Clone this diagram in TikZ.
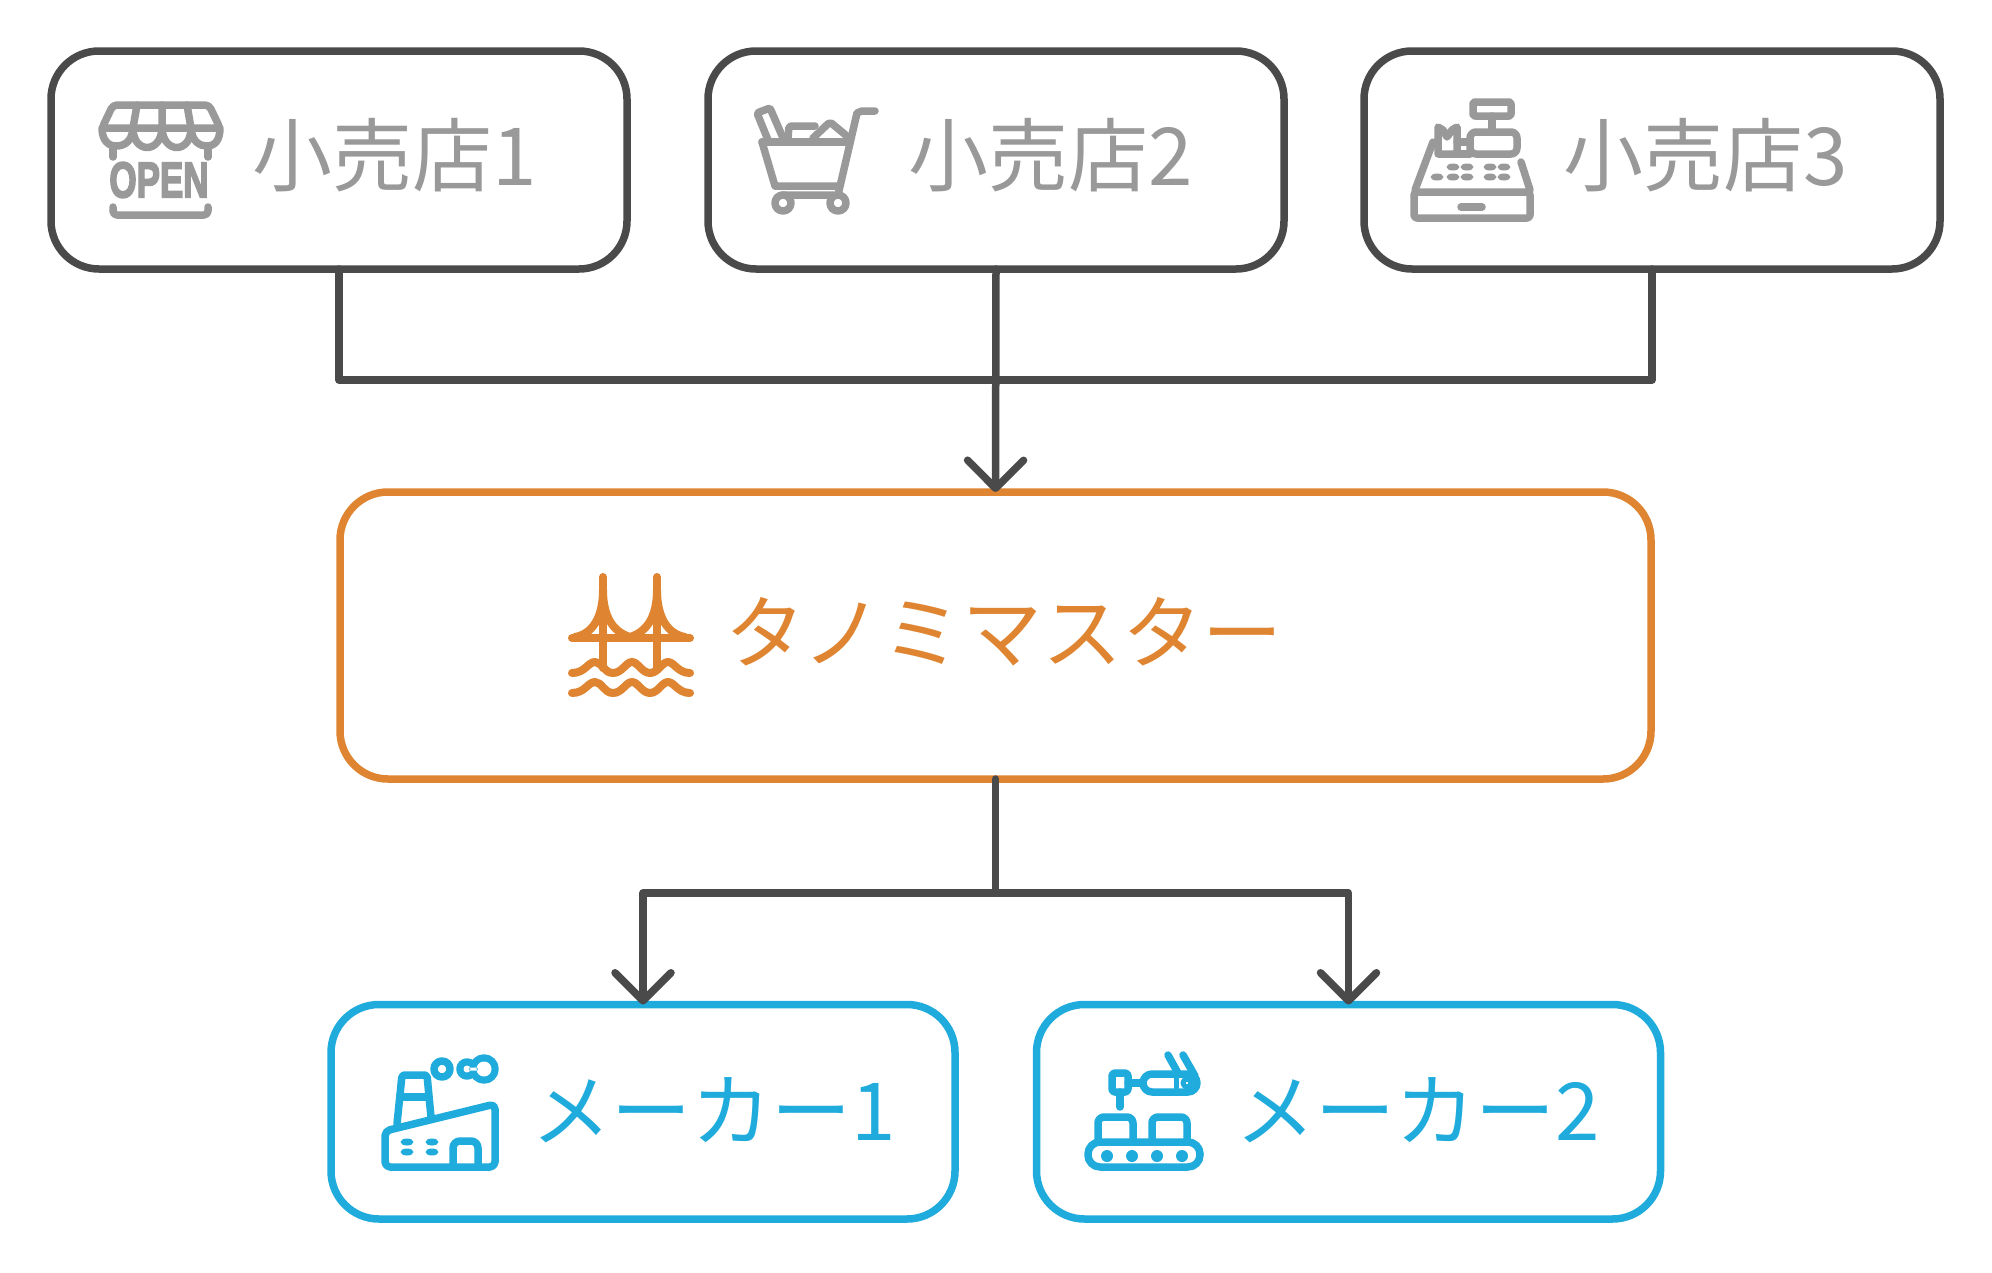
\documentclass[tikz,border=0pt]{standalone}
\usepackage{fontspec}
\setmainfont{Noto Sans CJK JP}
\newfontfamily\openfont{Liberation Sans}[BoldFont=* Bold,BoldFeatures={FakeBold=4}]
\usetikzlibrary{arrows.meta}
\definecolor{ink}{HTML}{4A4A4A}
\definecolor{muted}{HTML}{999999}
\definecolor{hub}{HTML}{DF8430}
\definecolor{maker}{HTML}{1FABDC}
\tikzset{
  x=1pt,y=-1pt,
  card/.style={draw=#1,line width=7.5pt,rounded corners=48pt,fill=white,inner sep=0pt,outer sep=0pt,anchor=north west},
  shopcard/.style={card=ink,minimum width=576pt,minimum height=218pt},
  makercard/.style={card=maker,minimum width=624pt,minimum height=214.5pt},
  hubcard/.style={card=hub,minimum width=1311pt,minimum height=287pt},
  lbl/.style={anchor=west,inner sep=0pt,font=\fontsize{80}{80}\selectfont},
  wire/.style={draw=ink,line width=7.5pt,line join=round,line cap=round},
  arrowwire/.style={wire,-{Straight Barb[length=28pt,width=56pt,line width=7.5pt,round]}},
  ico/.style={line width=7.5pt,line cap=round,line join=round,draw=#1},
}
\begin{document}
\begin{tikzpicture}
\useasboundingbox (0,0) rectangle (1992,1272);
% cards
\node[shopcard] (s1) at (51,51) {};
\node[shopcard] (s2) at (708,51) {};
\node[shopcard] (s3) at (1364,51) {};
\node[hubcard] (h) at (340,492) {};
\node[makercard] (m1) at (331,1004.5) {};
\node[makercard] (m2) at (1036.5,1004.5) {};
% labels
\node[lbl,text=muted] (t1) at (252,155) {小売店1};
\node[lbl,text=muted] (t2) at (908,155) {小売店2};
\node[lbl,text=muted] (t3) at (1563,155) {小売店3};
\node[lbl,text=hub] (t4) at (725,632) {タノミマスター};
\node[lbl,text=maker] (t5) at (531,1110) {メーカー1};
\node[lbl,text=maker] (t6) at (1235,1110) {メーカー2};
% connectors
\coordinate (ja) at (s1.south |- 0,380);
\coordinate (jb) at (s3.south |- 0,380);
\coordinate (jc) at (h.south |- 0,893);
\coordinate (jd) at (m1.north |- 0,893);
\coordinate (je) at (m2.north |- 0,893);
\draw[wire] (s1.south) -- (ja) -- (jb) -- (s3.south);
\draw[arrowwire] (s2.south) -- (h.north);
\draw[wire] (h.south) -- (jc);
\draw[arrowwire] (jc) -- (jd) -- (m1.north);
\draw[arrowwire] (jc) -- (je) -- (m2.north);
% icon: open shop
\begin{scope}[ico=muted]
\draw[rounded corners=4pt] (102,128) -- (113,105) -- (209,105) -- (220,128) -- cycle;
\draw (137,105) -- (133,128) (162,105) -- (162,128) (187,105) -- (191,128);
\draw (102,128) .. controls (102,140) and (108,146) .. (116,146) .. controls (124,146) and (132,142) .. (133,128);
\draw (133,128) .. controls (133,154) and (161,154) .. (162,128) .. controls (163,154) and (191,154) .. (191,128);
\draw (191,128) .. controls (192,142) and (200,146) .. (207,146) .. controls (215,146) and (220,140) .. (220,128);
\draw (113,146) -- (113,157) (208,146) -- (208,157);
\draw[rounded corners=4pt] (113,207) -- (113,215) -- (208,215) -- (208,207);
\end{scope}
\node[inner sep=0pt,text=muted,font=\openfont\bfseries\fontsize{50}{50}\selectfont,xscale=.7,transform shape] (open) at (159,180) {OPEN};
% icon: cart
\begin{scope}[ico=muted]
\draw (875,111) -- (862,111) -- (857,113) -- (838,195) -- (782,195);
\draw (762,142) -- (850,142);
\draw (762,142) -- (775,186) -- (838,186);
\draw (783,203) circle (8) (838,203) circle (8);
\draw[rounded corners=2pt] (768,140) -- (757,113) -- (770,108) -- (783,138);
\draw[rounded corners=2pt] (788,138) -- (789,126) -- (815,126);
\draw[rounded corners=2pt] (813,138) -- (830,122) -- (848,137);
\end{scope}
% icon: register
\begin{scope}[ico=muted]
\draw[rounded corners=2pt] (1473,102) rectangle (1511,116);
\draw (1492,116) -- (1492,132);
\draw[rounded corners=6pt] (1470,132) rectangle (1517,154);
\draw (1438,154) -- (1438,127) -- (1443,130) -- (1447,137) -- (1452,130) -- (1457,127) -- (1457,154) -- cycle;
\draw (1457,142) -- (1470,142) (1457,154) -- (1470,154);
\draw (1433,142) -- (1415,190) (1521,162) -- (1530,190);
\draw[rounded corners=3pt] (1414,192) rectangle (1530,218);
\draw (1461,207) -- (1482,207);
\foreach \bx in {1453,1467,1490,1504} \fill[muted] (\bx,167) ellipse (6.5 and 3.5);
\foreach \bx in {1437,1453,1467,1490,1504} \fill[muted] (\bx,177) ellipse (6.5 and 3.5);
\end{scope}
% icon: bridge
\begin{scope}[ico=hub,line width=8pt]
\draw (603,577) -- (603,668) (657,577) -- (657,668);
\draw (572,638) -- (690,638);
\draw (603,590) .. controls (603,618) and (592,634) .. (575,637);
\draw (603,590) .. controls (603,618) and (614,632) .. (630,637) .. controls (646,632) and (657,618) .. (657,590);
\draw (657,590) .. controls (657,618) and (668,634) .. (685,637);
\draw (572,673) .. controls (585,673) and (588,662) .. (595,662) .. controls (602,662) and (604,673) .. (613,673) .. controls (622,673) and (626,662) .. (632,662) .. controls (638,662) and (642,673) .. (650,673) .. controls (658,673) and (662,662) .. (668,662) .. controls (674,662) and (678,673) .. (690,673);
\draw (572,693) .. controls (585,693) and (588,682) .. (595,682) .. controls (602,682) and (604,693) .. (613,693) .. controls (622,693) and (626,682) .. (632,682) .. controls (638,682) and (642,693) .. (650,693) .. controls (658,693) and (662,682) .. (668,682) .. controls (674,682) and (678,693) .. (690,693);
\end{scope}
% icon: factory
\begin{scope}[ico=maker]
\draw[rounded corners=5pt] (385,1131) -- (495,1104) -- (495,1167) -- (385,1167) -- cycle;
\draw[rounded corners=2pt] (397,1124) -- (402,1075) -- (427,1075) -- (431,1117);
\draw (400,1097) -- (428,1097);
\draw[rounded corners=7pt] (453,1167) -- (453,1141) -- (478,1141) -- (478,1167);
\foreach \wx in {407,432} \foreach \wy in {1142,1152} \fill[maker] (\wx,\wy) ellipse (6.5 and 3.5);
\draw (442,1069) circle (8);
\draw (467,1069) circle (7) (484,1069) circle (11);
\fill[white,draw=none] (467,1069) circle (3.5) (484,1069) circle (7.5) (467,1067.5) rectangle (480,1070.5);
\end{scope}
% icon: robot
\begin{scope}[ico=maker]
\draw[rounded corners=3pt] (1112,1073) rectangle (1128,1092);
\draw (1120,1092) -- (1120,1107) (1128,1083) -- (1143,1083);
\draw[rounded corners=9pt] (1143,1074) rectangle (1197,1092);
\draw[line width=5pt] (1176,1078) -- (1176,1088);
\draw[line width=5pt] (1187,1083) circle (4);
\draw (1168,1055) -- (1178,1073) (1183,1055) -- (1195,1076);
\draw[rounded corners=6pt] (1098,1140) -- (1098,1117) -- (1133,1117) -- (1133,1140);
\draw[rounded corners=6pt] (1152,1140) -- (1152,1117) -- (1187,1117) -- (1187,1140);
\draw[rounded corners=12pt] (1088,1142) rectangle (1200,1167);
\foreach \cx in {1107,1132,1157,1182} \fill[maker] (\cx,1156) circle (6);
\end{scope}
\end{tikzpicture}
\end{document}
